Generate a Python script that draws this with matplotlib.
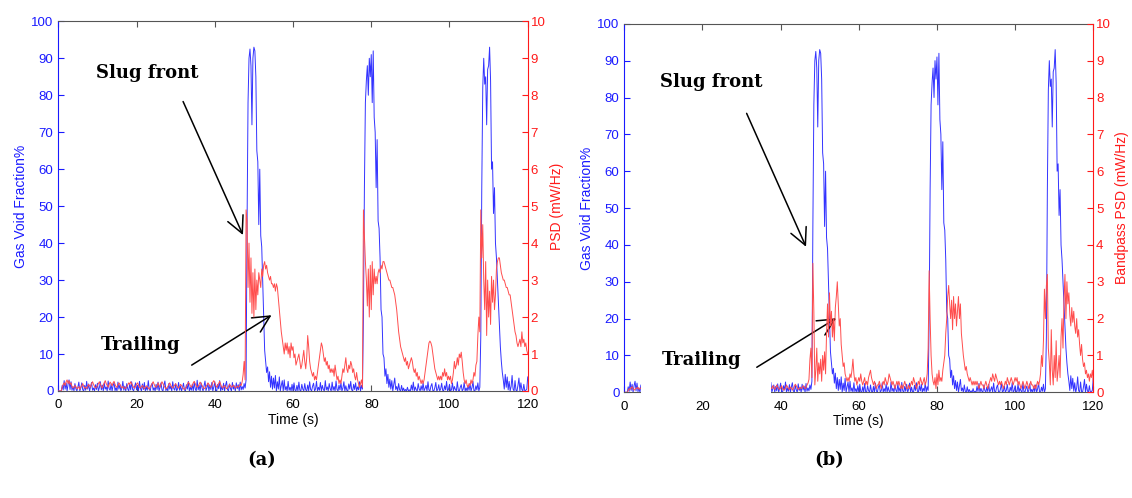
import numpy as np
import matplotlib
matplotlib.use("Agg")
import matplotlib.pyplot as plt
from matplotlib.patches import Rectangle

# ---------------- data ----------------
# time grid: 0 .. 120 s, step 0.25 s
time_s = np.arange(0, 120.001, 0.25)

# gas void fraction (%), shared by both panels
void_fraction = [
    0, 0, 0, 0, 1.5, 0.3, 2.8, 0.5, 2.2, 0, 1.8, 3.0, 0.4, 2.5, 0.2, 1.2, 0, 2.0, 0.6, 0,
    1.0, 2.4, 0, 0.8, 2.2, 0.3, 0, 1.5, 0.2, 2.6, 0.5, 1.9, 0, 1.2, 2.3, 0.2, 0.8, 0, 1.7, 0.4,
    2.1, 0, 0.9, 2.5, 0.3, 1.6, 0, 2.2, 0.5, 1.1, 0, 2.7, 0.6, 0.2, 1.9, 0, 1.4, 2.3, 0.1, 0.9,
    0, 2.4, 0.5, 1.7, 0, 0.8, 2.6, 0.2, 1.3, 0, 2.0, 0.6, 0, 1.8, 0.3, 2.5, 0.4, 0, 1.2, 2.2,
    0.3, 1.5, 0, 2.6, 0.7, 0, 1.9, 0.4, 2.3, 0, 1.1, 0.2, 2.8, 0.5, 0, 1.6, 2.1, 0.2, 0.9, 0,
    1.8, 0.4, 2.4, 0, 1.0, 2.2, 0.3, 0, 1.6, 2.7, 0.1, 0.8, 0, 2.0, 0.5, 1.3, 0, 2.5, 0.7, 0.2,
    1.9, 0, 0.6, 2.3, 0.2, 1.4, 0, 0.9, 2.1, 0.3, 0, 1.7, 0.5, 2.6, 0, 1.0, 0.2, 1.8, 0, 2.4,
    0.6, 0, 2.9, 0.3, 1.5, 0, 2.2, 0.8, 0, 1.3, 2.7, 0.1, 0.9, 2.0, 0, 1.6, 0.4, 2.3, 0, 1.1,
    2.5, 0.2, 0, 1.8, 0.6, 2.8, 0, 1.2, 0.3, 2.1, 0, 1.5, 2.6, 0.4, 0, 1.9, 0.7, 0, 2.3, 0.5,
    1.4, 0, 2.2, 0.6, 1.7, 0, 2.4, 0.3, 1.2, 0.4, 2.0, 0.8, 3.0, 45, 78, 90, 92.5, 88, 72, 90,
    93, 92, 85, 65, 62, 45, 60, 42, 39, 30, 21, 11, 8, 5, 6.5, 2.5, 5.2, 1.0, 4.0, 0.5,
    3.5, 0.8, 4.2, 0, 2.5, 0.5, 3.8, 0, 1.5, 2.8, 0, 3.0, 0.3, 1.2, 0, 2.6, 0.2, 1.0, 0, 1.8,
    0, 2.2, 0.3, 0, 1.5, 0, 2.4, 0.2, 0, 1.8, 0.5, 0, 2.0, 0.3, 0, 1.6, 0, 2.5, 0.4, 0,
    1.3, 2.1, 0, 0.5, 2.6, 0, 1.0, 0.2, 2.3, 0, 1.5, 0.4, 0, 2.8, 0.3, 1.1, 0, 2.0, 0.6, 0,
    2.4, 0.2, 1.2, 0, 2.7, 0.4, 0, 1.6, 0.3, 2.2, 0, 0.8, 2.5, 0, 1.4, 0.2, 0, 1.9, 0.5, 2.6,
    0.3, 0, 1.8, 0.4, 2.2, 0, 1.1, 0.3, 2.5, 0, 1.5, 0.5, 20, 55, 78, 84, 88, 80, 90, 85,
    91, 78, 92, 74, 70, 55, 68, 46, 44, 36, 22, 20, 10, 9, 4, 6, 2, 4.5, 1.0, 3.2,
    0.5, 2.8, 0, 1.8, 3.5, 0.4, 1.2, 0, 2.0, 0.3, 0, 1.5, 0, 0.8, 0, 0.4, 0, 1.0, 0, 0.3,
    0, 1.6, 0.2, 2.4, 0, 1.1, 0.3, 0, 2.0, 0.5, 0, 1.4, 0.2, 2.2, 0, 0.7, 1.5, 0, 2.5, 0.3,
    0, 1.3, 2.0, 0.1, 0, 0.9, 2.3, 0, 0.4, 1.7, 0, 0.6, 2.1, 0.2, 0, 1.4, 0.3, 2.6, 0, 0.5,
    1.8, 0, 0.3, 2.2, 0, 1.2, 0.4, 0, 2.5, 0.2, 0, 1.0, 1.7, 0, 0.5, 2.3, 0, 0.8, 0, 1.5,
    0.2, 2.0, 0, 0.9, 2.6, 0.1, 0, 1.4, 0.3, 2.2, 0, 1.0, 15, 55, 82, 90, 83, 85, 72, 87,
    88, 93, 84, 60, 62, 48, 55, 40, 36, 30, 24, 18, 12, 8, 5, 3, 0.5, 4.5, 1.0, 3.8,
    0.3, 2.6, 0, 1.2, 4.2, 0.5, 0, 2.8, 0.2, 0, 1.5, 3.5, 0, 2.2, 0.4, 0, 1.8, 0, 0.2, 0.5,
    3.8,
]

# PSD (mW/Hz), panel (a)
psd_a = [
    0, 0, 0, 0, 0.10, 0.18, 0.22, 0.15, 0.25, 0.30, 0.20, 0.28, 0.18, 0.22, 0.12, 0.08, 0.10, 0.15, 0.12, 0.06,
    0.08, 0.12, 0.05, 0.10, 0.15, 0.20, 0.12, 0.08, 0.10, 0.06, 0.12, 0.18, 0.14, 0.10, 0.20, 0.25, 0.18, 0.12, 0.08, 0.10,
    0.14, 0.20, 0.25, 0.18, 0.12, 0.08, 0.15, 0.22, 0.28, 0.20, 0.15, 0.10, 0.18, 0.24, 0.20, 0.14, 0.22, 0.26, 0.18, 0.12,
    0.10, 0.16, 0.22, 0.18, 0.12, 0.08, 0.12, 0.10, 0.06, 0.08, 0.12, 0.16, 0.22, 0.18, 0.25, 0.20, 0.15, 0.10, 0.08, 0.12,
    0.18, 0.22, 0.16, 0.10, 0.08, 0.12, 0.15, 0.10, 0.06, 0.10, 0.14, 0.12, 0.08, 0.05, 0.10, 0.15, 0.20, 0.25, 0.18, 0.12,
    0.10, 0.14, 0.22, 0.16, 0.10, 0.18, 0.25, 0.20, 0.14, 0.10, 0.06, 0.08, 0.12, 0.18, 0.22, 0.15, 0.10, 0.08, 0.12, 0.16,
    0.20, 0.14, 0.10, 0.08, 0.12, 0.18, 0.15, 0.10, 0.06, 0.04, 0.08, 0.12, 0.18, 0.24, 0.20, 0.14, 0.10, 0.15, 0.22, 0.26,
    0.20, 0.14, 0.10, 0.12, 0.18, 0.24, 0.20, 0.15, 0.10, 0.06, 0.08, 0.12, 0.16, 0.22, 0.18, 0.12, 0.10, 0.15, 0.24, 0.28,
    0.22, 0.16, 0.10, 0.14, 0.20, 0.26, 0.18, 0.12, 0.08, 0.12, 0.15, 0.10, 0.06, 0.08, 0.12, 0.18, 0.15, 0.10, 0.12, 0.16,
    0.12, 0.08, 0.10, 0.14, 0.10, 0.12, 0.18, 0.15, 0.25, 0.45, 0.80, 0.30, 4.9, 4.6, 2.8, 4.0, 2.4, 3.6, 2.1, 3.2,
    2.0, 3.3, 2.2, 3.0, 2.6, 3.2, 3.0, 2.8, 3.3, 3.1, 3.4, 3.5, 3.3, 3.4, 3.2, 3.1, 3.0, 3.1, 2.9, 2.9,
    2.8, 2.9, 2.7, 2.9, 2.8, 2.5, 2.2, 1.9, 1.6, 1.4, 1.2, 1.0, 1.3, 1.1, 1.3, 1.0, 1.2, 0.9, 1.3, 1.1,
    1.2, 0.9, 1.0, 0.7, 0.8, 0.9, 1.0, 0.8, 0.6, 0.7, 0.9, 1.1, 0.8, 0.6, 0.9, 1.5, 1.2, 0.8, 0.6, 0.5,
    0.4, 0.5, 0.3, 0.4, 0.3, 0.5, 0.7, 0.9, 1.1, 1.3, 1.2, 1.0, 0.8, 0.9, 0.7, 0.8, 0.6, 0.7, 0.5, 0.6,
    0.5, 0.6, 0.4, 0.7, 0.5, 0.3, 0.4, 0.2, 0.3, 0.2, 0.4, 0.6, 0.5, 0.7, 0.9, 0.6, 0.5, 0.7, 0.6, 0.8,
    0.7, 0.5, 0.6, 0.4, 0.3, 0.5, 0.3, 0.2, 0.1, 0.2, 0.3, 0.1, 4.9, 4.2, 3.5, 3.0, 2.3, 3.3, 2.0, 3.4,
    2.2, 3.5, 2.6, 3.3, 2.9, 3.1, 2.9, 3.2, 3.3, 3.2, 3.4, 3.3, 3.5, 3.5, 3.4, 3.3, 3.2, 3.1, 3.0, 3.0,
    2.9, 2.8, 2.8, 2.7, 2.6, 2.4, 2.2, 1.9, 1.6, 1.4, 1.2, 1.1, 1.0, 0.9, 0.8, 0.9, 0.7, 0.8, 0.6, 0.7,
    0.8, 0.9, 0.8, 0.6, 0.5, 0.6, 0.4, 0.5, 0.3, 0.4, 0.3, 0.2, 0.3, 0.2, 0.3, 0.5, 0.7, 0.9, 1.1, 1.3,
    1.35, 1.3, 1.2, 1.0, 0.8, 0.6, 0.5, 0.4, 0.3, 0.4, 0.3, 0.4, 0.3, 0.5, 0.4, 0.6, 0.4, 0.5, 0.3, 0.4,
    0.3, 0.4, 0.2, 0.3, 0.5, 0.8, 0.6, 0.7, 0.9, 0.7, 1.0, 0.9, 1.05, 0.8, 0.5, 0.3, 0.2, 0.3, 0.15, 0.1,
    0.2, 0.15, 0.3, 0.2, 0.3, 0.5, 0.4, 0.7, 0.8, 1.5, 2.0, 1.6, 4.9, 3.6, 4.5, 3.0, 2.2, 3.5, 1.5, 3.0,
    2.0, 2.7, 1.8, 3.1, 2.4, 3.0, 2.2, 2.6, 3.3, 3.5, 3.6, 3.6, 3.4, 3.2, 3.1, 3.0, 3.0, 2.9, 2.8, 2.8,
    2.7, 2.6, 2.6, 2.4, 2.2, 2.0, 1.8, 1.6, 1.5, 1.3, 1.2, 1.3, 1.4, 1.2, 1.6, 1.3, 1.4, 1.2, 1.3, 1.1,
    1.0,
]

# Bandpass PSD (mW/Hz), panel (b)
psd_b = [
    0, 0, 0, 0, 0.05, 0.10, 0.08, 0.12, 0.15, 0.10, 0.06, 0.08, 0.12, 0.10, 0.14, 0.08, 0.10, 0.12, 0.08, 0.06,
    0.10, 0.12, 0.08, 0.14, 0.10, 0.06, 0.12, 0.15, 0.10, 0.08, 0.12, 0.10, 0.06, 0.10, 0.14, 0.12, 0.08, 0.10, 0.12, 0.08,
    0.10, 0.14, 0.12, 0.08, 0.06, 0.10, 0.12, 0.15, 0.10, 0.08, 0.12, 0.10, 0.14, 0.10, 0.08, 0.12, 0.10, 0.06, 0.08, 0.12,
    0.10, 0.08, 0.12, 0.14, 0.10, 0.06, 0.10, 0.12, 0.08, 0.10, 0.14, 0.12, 0.08, 0.10, 0.12, 0.10, 0.06, 0.08, 0.12, 0.10,
    0.12, 0.10, 0.08, 0.12, 0.14, 0.10, 0.06, 0.10, 0.12, 0.08, 0.10, 0.14, 0.10, 0.08, 0.12, 0.10, 0.06, 0.10, 0.12, 0.08,
    0.10, 0.12, 0.08, 0.10, 0.14, 0.12, 0.08, 0.06, 0.10, 0.12, 0.10, 0.08, 0.12, 0.14, 0.10, 0.06, 0.08, 0.10, 0.12, 0.10,
    0.08, 0.12, 0.10, 0.06, 0.10, 0.14, 0.12, 0.08, 0.10, 0.12, 0.08, 0.10, 0.14, 0.10, 0.06, 0.08, 0.12, 0.10, 0.08, 0.10,
    0.08, 0.12, 0.10, 0.06, 0.10, 0.14, 0.12, 0.08, 0.15, 0.20, 0.12, 0.10, 0.18, 0.14, 0.08, 0.12, 0.20, 0.15, 0.10, 0.08,
    0.12, 0.18, 0.10, 0.06, 0.08, 0.12, 0.20, 0.15, 0.10, 0.08, 0.14, 0.12, 0.06, 0.10, 0.16, 0.22, 0.18, 0.12, 0.08, 0.10,
    0.14, 0.10, 0.12, 0.18, 0.15, 0.10, 0.12, 0.20, 0.25, 0.35, 0.9, 1.2, 0.4, 3.5, 2.2, 0.2, 0.6, 1.2, 0.3, 0.8,
    0.5, 0.9, 0.3, 1.0, 0.6, 1.1, 0.5, 1.6, 2.4, 1.5, 2.7, 1.8, 2.2, 1.5, 2.0, 1.4, 2.3, 2.6, 3.0, 2.4,
    1.8, 2.0, 1.3, 1.0, 0.7, 0.8, 0.5, 0.4, 0.3, 0.4, 0.3, 0.5, 0.4, 0.6, 0.9, 0.5, 0.3, 0.4, 0.2, 0.3,
    0.4, 0.3, 0.5, 0.3, 0.2, 0.3, 0.4, 0.2, 0.3, 0.2, 0.4, 0.5, 0.6, 0.4, 0.3, 0.2, 0.3, 0.2, 0.1, 0.2,
    0.2, 0.3, 0.2, 0.1, 0.2, 0.3, 0.2, 0.4, 0.3, 0.2, 0.3, 0.5, 0.4, 0.3, 0.2, 0.3, 0.2, 0.1, 0.2, 0.3,
    0.2, 0.3, 0.2, 0.1, 0.2, 0.1, 0.2, 0.3, 0.2, 0.1, 0.1, 0.2, 0.1, 0.2, 0.3, 0.2, 0.4, 0.3, 0.2, 0.1,
    0.2, 0.3, 0.2, 0.4, 0.3, 0.2, 0.3, 0.4, 0.2, 0.3, 0.5, 1.2, 3.3, 2.0, 1.0, 0.5, 0.3, 0.2, 0.4, 0.1,
    0.5, 0.2, 0.6, 0.3, 0.4, 0.3, 0.6, 0.8, 1.0, 1.6, 2.0, 2.6, 2.9, 2.4, 2.0, 2.5, 1.7, 2.6, 2.0, 2.4,
    1.8, 2.2, 2.6, 2.0, 2.4, 1.6, 1.3, 1.0, 0.8, 0.6, 0.7, 0.5, 0.4, 0.3, 0.4, 0.3, 0.2, 0.3, 0.2, 0.3,
    0.2, 0.3, 0.2, 0.1, 0.2, 0.3, 0.2, 0.2, 0.1, 0.2, 0.3, 0.2, 0.1, 0.2, 0.3, 0.4, 0.3, 0.5, 0.4, 0.3,
    0.5, 0.4, 0.3, 0.2, 0.3, 0.2, 0.3, 0.2, 0.1, 0.2, 0.3, 0.2, 0.4, 0.3, 0.2, 0.3, 0.4, 0.3, 0.2, 0.3,
    0.4, 0.3, 0.4, 0.2, 0.3, 0.2, 0.1, 0.2, 0.3, 0.2, 0.1, 0.2, 0.3, 0.2, 0.1, 0.2, 0.3, 0.2, 0.2, 0.1,
    0.2, 0.1, 0.2, 0.3, 0.2, 0.3, 0.5, 1.0, 0.7, 1.4, 2.8, 2.0, 2.9, 3.2, 1.2, 0.8, 0.2, 1.7, 0.6, 0.2,
    1.0, 0.4, 1.4, 0.3, 0.6, 1.0, 0.4, 1.5, 2.0, 1.2, 2.5, 3.2, 2.0, 3.0, 2.4, 2.7, 2.1, 1.8, 2.3, 1.9,
    2.2, 1.8, 1.6, 2.0, 1.5, 1.7, 1.3, 1.0, 1.3, 0.9, 0.7, 0.8, 0.5, 0.6, 0.4, 0.5, 0.3, 0.5, 0.4, 0.6,
    0.3,
]

x_ticks = [0, 20, 40, 60, 80, 100, 120]
left_ticks = list(range(0, 101, 10))
right_ticks = list(range(0, 11, 1))

# ---------------- styling ----------------
BLUE_LINE = (0.2, 0.2, 1.0)
RED_LINE = (1.0, 0.3, 0.3)
BLUE_TXT = "#1a1aff"
RED_TXT = "#ff1a1a"
SANS = ["Liberation Sans", "DejaVu Sans"]
SERIF = ["DejaVu Serif"]

plt.rcParams["font.family"] = SANS

fig = plt.figure(figsize=(11.32, 4.98), dpi=100)


def make_panel(rect, psd, right_label, slug_txt, slug_tail, slug_tip,
               trail_txt, trail_tail, trail_tip, gap=None):
    ax = fig.add_axes(rect)
    ax.plot(time_s, void_fraction, color=BLUE_LINE, lw=0.7)
    ax.set_xlim(0, 120)
    ax.set_ylim(0, 100)
    ax.set_xticks(x_ticks)
    ax.set_yticks(left_ticks)
    ax.tick_params(axis="y", colors=BLUE_TXT, direction="in", length=4, labelsize=9.5,
                   left=True, right=False)
    ax.tick_params(axis="x", colors="#555555", labelcolor="black", direction="in",
                   length=4, labelsize=9.5, top=True, bottom=True, pad=6)
    for s in ("top", "bottom"):
        ax.spines[s].set_color("#555555")
        ax.spines[s].set_linewidth(0.8)
    ax.spines["left"].set_color(BLUE_TXT)
    ax.spines["right"].set_visible(False)
    ax.set_ylabel("Gas Void Fraction%", color=BLUE_TXT, fontsize=10, labelpad=2)
    ax.set_xlabel("Time (s)", fontsize=10, labelpad=1)

    ax2 = ax.twinx()
    ax2.plot(time_s, psd, color=RED_LINE, lw=0.7)
    ax2.set_ylim(0, 10)
    ax2.set_yticks(right_ticks)
    ax2.tick_params(axis="y", colors=RED_TXT, direction="in", length=4, labelsize=9.5,
                    pad=2)
    for s in ("top", "bottom", "left"):
        ax2.spines[s].set_visible(False)
    ax2.spines["right"].set_color(RED_TXT)
    ax2.set_ylabel(right_label, color=RED_TXT, fontsize=10, labelpad=3)

    if gap is not None:
        ax2.add_patch(Rectangle((gap[0], -0.04), gap[1] - gap[0], 0.42,
                                facecolor="white", edgecolor="none",
                                clip_on=False, zorder=10))

    arrow = dict(arrowstyle="->,head_length=0.6,head_width=0.3", lw=1.1,
                 color="black", mutation_scale=20, shrinkA=0, shrinkB=0)
    ax.annotate("", xy=slug_tip, xytext=slug_tail, arrowprops=arrow, zorder=20)
    ax.annotate("", xy=trail_tip, xytext=trail_tail, arrowprops=arrow, zorder=20)
    ax.text(slug_txt[0], slug_txt[1], "Slug front", family=SERIF, fontweight="bold",
            fontsize=13, ha="center", va="center", zorder=20)
    ax.text(trail_txt[0], trail_txt[1], "Trailing", family=SERIF, fontweight="bold",
            fontsize=13, ha="center", va="center", zorder=20)
    ax2.set_zorder(ax.get_zorder() + 1)
    ax2.patch.set_visible(False)
    return ax, ax2


# panel (a)
make_panel([0.0515, 0.2149, 0.4147, 0.7423], psd_a, "PSD (mW/Hz)",
           (22.7, 86.0), (31.9, 78.3), (47.2, 42.2),
           (21.1, 12.4), (34.1, 7.0), (54.5, 20.5))

# panel (b)
make_panel([0.5515, 0.2122, 0.4143, 0.7400], psd_b, "Bandpass PSD (mW/Hz)",
           (22.2, 84.3), (31.3, 75.7), (46.5, 39.5),
           (19.8, 8.8), (33.9, 6.8), (54.2, 20.1), gap=(4.3, 37.5))

fig.text(262 / 1132, 1 - 460 / 498, "(a)", family=SERIF, fontweight="bold",
         fontsize=13, ha="center", va="center")
fig.text(829 / 1132, 1 - 460 / 498, "(b)", family=SERIF, fontweight="bold",
         fontsize=13, ha="center", va="center")

fig.savefig("out.png", dpi=100, facecolor="white")
